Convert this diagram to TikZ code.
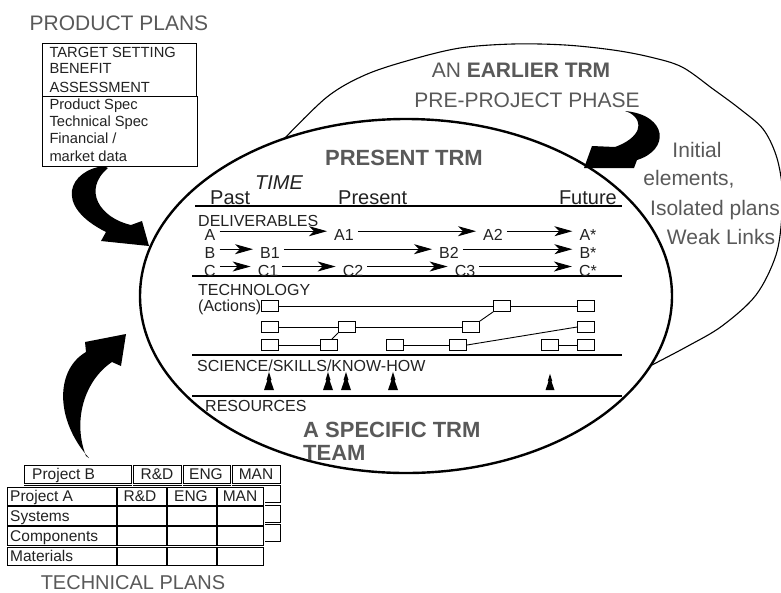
\documentclass[tikz,border=0pt]{standalone}
\usepackage{fontspec}
\setmainfont{Liberation Sans}
\usetikzlibrary{arrows.meta}
\newcommand\fsz[1]{\fontsize{#1}{#1}\selectfont}
\definecolor{txtgray}{HTML}{595959}
\definecolor{ink}{HTML}{222222}
\begin{document}
\begin{tikzpicture}[x=1pt,y=-1pt,
  bigtxt/.style={inner sep=0pt, anchor=base, text=txtgray, font=\fsz{21}},
  smalltxt/.style={inner sep=0pt, anchor=base west, text=ink, font=\fsz{14.7}},
  sectxt/.style={inner sep=0pt, anchor=base west, text=ink, font=\fsz{16}},
  timetxt/.style={inner sep=0pt, anchor=base, text=ink, font=\fsz{20}},
  dlab/.style={inner xsep=3pt, inner ysep=0pt, text height=11.5pt, text depth=0pt, anchor=center, text=ink, font=\fsz{16}},
  darr/.style={line width=0.9pt, -{Stealth[length=18pt,width=10pt,inset=5pt]}, shorten >=4pt, shorten <=1pt},
  techbox/.style={draw, line width=0.9pt, fill=white, minimum width=17pt, minimum height=11pt, inner sep=0pt},
  sepline/.style={line width=1.1pt},
  cell/.style={draw, line width=0.9pt, fill=white, inner sep=0pt, anchor=north west},
  celltxt/.style={inner sep=0pt, text=ink, font=\fsz{15.5}},
  sciencemark/.pic={\fill (0,-18)--(-2.5,-10)--(-1.5,-10)--(-5,0)--(5,0)--(1.5,-10)--(2.5,-10)--cycle;}
]
\useasboundingbox (0,0) rectangle (781,592);
\fill[white] (0,0) rectangle (781,592);

% back ellipse (earlier TRM)
\draw[line width=1.1pt] plot[smooth, tension=0.55] coordinates {(284,139) (327,97) (365,75) (410,60) (460,48) (513,44) (565,45) (613,50) (650,57) (682,67) (713,89) (740,109) (763,129) (776,155) (782,185) (782,215) (776,255) (756,295) (722,326) (688,346) (650,366)};

% front ellipse (present TRM)
\draw[line width=2.4pt, fill=white] (406,296) ellipse [x radius=266pt, y radius=177pt];

% texts of earlier TRM
\node[bigtxt] (earlier) at (521,77.5) {AN \textbf{EARLIER TRM}};
\node[bigtxt] (prephase) at (527,107.5) {PRE-PROJECT PHASE};
\node[bigtxt] (init1) at (697,157.5) {Initial};
\node[bigtxt] (init2) at (689,185.5) {elements,};
\node[bigtxt] (init3) at (715,215.5) {Isolated plans};
\node[bigtxt] (init4) at (721,244.5) {Weak Links};

% present TRM
\node[bigtxt, font=\fsz{22}\bfseries] (present) at (404,165.4) {PRESENT TRM};
\node[timetxt, font=\fsz{20}\itshape] (time) at (279,189) {TIME};
\node[timetxt, anchor=base west] (past) at (210,204.5) {Past};
\node[timetxt, anchor=base west] (presentt) at (338,204.5) {Present};
\node[timetxt, anchor=base east] (future) at (617,204.5) {Future};

\draw[sepline] (195,206) -- (622,206);
\draw[sepline] (192,276) -- (622,276);
\draw[sepline] (192,355) -- (622,355);
\draw[sepline] (192,396) -- (622,396);

\node[sectxt] (deliv) at (198,226.5) {DELIVERABLES};
\node[sectxt] (techn) at (198,295) {TECHNOLOGY};
\node[sectxt] (actions) at (198,311.5) {(Actions)};
\node[sectxt] (science) at (197,371.5) {SCIENCE/SKILLS/KNOW-HOW};
\node[sectxt] (resources) at (205,411.5) {RESOURCES};

% deliverables (label centres 3.5pt below the arrow lines)
\node[dlab] (A) at (210,235) {A};
\node[dlab] (A1) at (344,235) {A1};
\node[dlab] (A2) at (493,235) {A2};
\node[dlab] (As) at (588,235) {A*};
\node[dlab] (B) at (210,253) {B};
\node[dlab] (B1) at (270,253) {B1};
\node[dlab] (B2) at (449,253) {B2};
\node[dlab] (Bs) at (588,253) {B*};
\node[dlab] (C) at (210,270.3) {C};
\node[dlab] (C1) at (268,270.3) {C1};
\node[dlab] (C2) at (353,270.3) {C2};
\node[dlab] (C3) at (465,270.3) {C3};
\node[dlab] (Cs) at (588,270.3) {C*};
\draw[darr] ([yshift=3.8pt]A.east) -- ([yshift=3.8pt]A1.west);
\draw[darr] ([yshift=3.8pt]A1.east) -- ([yshift=3.8pt]A2.west);
\draw[darr] ([yshift=3.8pt]A2.east) -- ([yshift=3.8pt]As.west);
\draw[darr] ([yshift=3.8pt]B.east) -- ([yshift=3.8pt]B1.west);
\draw[darr] ([yshift=3.8pt]B1.east) -- ([yshift=3.8pt]B2.west);
\draw[darr] ([yshift=3.8pt]B2.east) -- ([yshift=3.8pt]Bs.west);
\draw[darr] ([yshift=3.8pt]C.east) -- ([yshift=3.8pt]C1.west);
\draw[darr] ([yshift=3.8pt]C1.east) -- ([yshift=3.8pt]C2.west);
\draw[darr] ([yshift=3.8pt]C2.east) -- ([yshift=3.8pt]C3.west);
\draw[darr] ([yshift=3.8pt]C3.east) -- ([yshift=3.8pt]Cs.west);

% technology boxes
\node[techbox] (t11) at (270,306) {};
\node[techbox] (t12) at (502,306) {};
\node[techbox] (t13) at (586,306) {};
\node[techbox] (t21) at (270,327) {};
\node[techbox] (t22) at (347,327) {};
\node[techbox] (t23) at (471,327) {};
\node[techbox] (t24) at (586,327) {};
\node[techbox] (t31) at (270,345) {};
\node[techbox] (t32) at (329,345) {};
\node[techbox] (t33) at (395,345) {};
\node[techbox] (t34) at (458,345) {};
\node[techbox] (t35) at (550,345) {};
\node[techbox] (t36) at (586,345) {};
\begin{scope}[line width=0.9pt]
\draw (t11) -- (t12);
\draw (t12) -- (t13);
\draw (t21) -- (t22);
\draw (t22) -- (t23);
\draw (t23.north east) -- (t12.south west);
\draw (t31) -- (t32);
\draw ([xshift=3pt]t32.north) -- (t22.south west);
\draw (t33) -- (t34);
\draw (t34.east) -- (t24.west);
\draw (t35) -- (t36);
\end{scope}

% science marks
\pic at (269,390) {sciencemark};
\pic at (328,390) {sciencemark};
\pic at (346,390) {sciencemark};
\pic at (393,390) {sciencemark};
\pic[scale=0.9] at (550,390) {sciencemark};

\node[bigtxt, anchor=base west, font=\fsz{22}\bfseries] (team1) at (303,437) {A SPECIFIC TRM};
\node[bigtxt, anchor=base west, font=\fsz{22}\bfseries] (team2) at (303,460) {TEAM};

% product plans
\node[bigtxt] (pp) at (119,30) {PRODUCT PLANS};
\node[draw, line width=0.9pt, minimum width=154pt, minimum height=53pt, inner sep=0pt, anchor=north west] (ppbox1) at (42,43) {};
\node[draw, line width=0.9pt, minimum width=155pt, minimum height=70pt, inner sep=0pt, anchor=north west] (ppbox2) at (42,96) {};
\node[smalltxt] (pt1) at (49.3,57) {TARGET SETTING};
\node[smalltxt] (pt2) at (49.3,73.5) {BENEFIT};
\node[smalltxt] (pt3) at (49.3,92.3) {ASSESSMENT};
\node[smalltxt] (pt4) at (49.3,109.3) {Product Spec};
\node[smalltxt] (pt5) at (49.3,126.3) {Technical Spec};
\node[smalltxt] (pt6) at (49.3,143.3) {Financial /};
\node[smalltxt] (pt7) at (49.3,161.5) {market data};

% technical plans tables
\foreach \x/\w/\c in {24/107/1,133/48/2,183/47/3,232/48/4}
  \foreach \y/\h/\r in {465/18/1,485/17/2,505/17/3,524/17/4}
    \node[cell, minimum width=\w pt, minimum height=\h pt] (pb\c\r) at (\x,\y) {};
\fill[white] (5,485.5) rectangle (264.5,567);
\foreach \x/\w/\c in {7/109/1,117/49/2,167/49/3,217/46/4}
  \foreach \y/\h/\r in {487/18/1,506/19/2,526/19/3,547/18/4}
    \node[cell, minimum width=\w pt, minimum height=\h pt] (pa\c\r) at (\x,\y) {};
\node[celltxt, anchor=base west] (pbt) at (32,479) {Project B};
\node[celltxt, anchor=base] (pbrd) at (157,479) {R\&D};
\node[celltxt, anchor=base] (pbeng) at (206,479) {ENG};
\node[celltxt, anchor=base] (pbman) at (256,479) {MAN};
\node[celltxt, anchor=base west] (pat) at (10,501.5) {Project A};
\node[celltxt, anchor=base] (pard) at (140,501.5) {R\&D};
\node[celltxt, anchor=base] (paeng) at (191,501.5) {ENG};
\node[celltxt, anchor=base] (paman) at (240,501.5) {MAN};
\node[celltxt, anchor=base west] (sys) at (10,521.5) {Systems};
\node[celltxt, anchor=base west] (comp) at (10,541.5) {Components};
\node[celltxt, anchor=base west] (mat) at (10,561.5) {Materials};
\node[bigtxt, font=\fsz{20}] (tp) at (133,589) {TECHNICAL PLANS};

% big curved arrows
\fill (104,166) .. controls (70,170) and (52,205) .. (106,232) -- (101,241) -- (149,246) -- (142,221) -- (131,225) .. controls (100,218) and (82,190) .. (108,168) -- cycle;
\fill (89,458) .. controls (55,420) and (55,370) .. (86,352) -- (85,342) -- (126,334) -- (121,366) -- (112,362) .. controls (85,380) and (72,420) .. (86,456) -- cycle;
\fill (625,111) .. controls (668,115) and (670,150) .. (637,160) -- (634,168) -- (584,168) -- (592,146) -- (615,147) .. controls (640,138) and (645,122) .. (630,113) -- cycle;
\end{tikzpicture}
\end{document}
